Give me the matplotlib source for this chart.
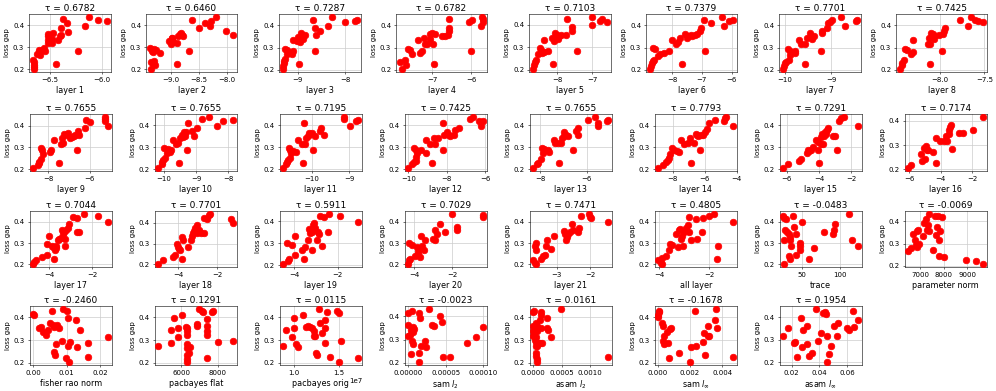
import matplotlib
matplotlib.use("Agg")
import matplotlib.pyplot as plt

# ---------------- data ----------------
taus = [0.6782, 0.6460, 0.7287, 0.6782, 0.7103, 0.7379, 0.7701, 0.7425,
        0.7655, 0.7655, 0.7195, 0.7425, 0.7655, 0.7793, 0.7291, 0.7174,
        0.7044, 0.7701, 0.5911, 0.7029, 0.7471, 0.4805, -0.0483, -0.0069,
        -0.2460, 0.1291, 0.0115, -0.0023, 0.0161, -0.1678, 0.1954]

xlabels = [f"layer {i}" for i in range(1, 22)] + [
    "all layer", "trace", "parameter norm", "fisher rao norm", "pacbayes flat",
    "pacbayes orig", r"sam $l_2$", r"asam $l_2$", r"sam $l_\infty$", r"asam $l_\infty$"]

l1_x = [-6.667, -6.657, -6.65, -6.654, -6.65, -6.628, -6.609, -6.603, -6.596, -6.577, -6.561, -6.548,
        -6.522, -6.519, -6.516, -6.516, -6.484, -6.481, -6.468, -6.439, -6.426, -6.407, -6.391, -6.394,
        -6.378, -6.337, -6.33, -6.228, -6.16, -6.122, -6.038, -5.945]
l1_y = [.244, .232, .221, .209, .200, .271, .277, .289, .267, .289, .295, .282, .362, .349, .335, .318,
        .318, .338, .364, .224, .332, .352, .356, .388, .427, .412, .371, .285, .398, .439, .424, .418]

l2_x = [-9.371, -9.341, -9.324, -9.294, -9.265, -9.347, -9.324, -9.294, -9.282, -9.353, -9.188, -9.029,
        -9.0, -8.988, -8.971, -8.96, -8.894, -8.882, -8.865, -8.841, -8.812, -8.80, -8.78, -8.671,
        -8.618, -8.488, -8.382, -8.294, -8.276, -8.188, -8.012, -7.888]
l2_y = [.295, .285, .277, .292, .289, .235, .226, .240, .221, .200, .274, .330, .315, .341, .342, .323,
        .224, .318, .350, .360, .364, .356, .349, .285, .426, .388, .412, .398, .417, .439, .373, .358]

l3_x = [-9.317, -9.303, -9.296, -9.282, -9.268, -9.261, -9.232, -9.225, -9.197, -9.127, -9.106, -9.099,
        -9.014, -9.0, -8.965, -8.951, -8.93, -8.894, -8.88, -8.845, -8.683, -8.634, -8.627, -8.613,
        -8.521, -8.366, -8.282, -8.0, -7.796, -7.746]
l3_y = [.202, .217, .232, .239, .250, .295, .289, .270, .282, .270, .285, .333, .330, .348, .224, .323,
        .364, .353, .339, .356, .426, .285, .388, .355, .373, .398, .439, .414, .418, .424]

l4_x = [-7.817, -7.775, -7.692, -7.667, -7.625, -7.567, -7.525, -7.35, -7.308, -7.267, -7.208, -7.192,
        -7.142, -7.067, -7.058, -7.0, -6.983, -6.942, -6.917, -6.75, -6.667, -6.608, -6.583, -6.567,
        -6.567, -6.058, -6.0, -5.992, -5.767, -5.733, -5.708, -5.708]
l4_y = [.235, .202, .244, .221, .295, .289, .270, .333, .274, .285, .342, .318, .318, .338, .361, .364,
        .318, .224, .361, .353, .353, .356, .373, .386, .427, .414, .285, .426, .398, .439, .427, .417]

l5_x = [-8.705, -8.657, -8.638, -8.61, -8.543, -8.495, -8.467, -8.429, -8.39, -8.371, -8.276, -8.162,
        -8.133, -8.095, -8.067, -8.0, -7.971, -7.943, -7.895, -7.752, -7.714, -7.59, -7.571, -7.448,
        -7.0, -7.0, -6.781, -6.733, -6.571]
l5_y = [.202, .221, .235, .244, .270, .295, .288, .274, .333, .277, .282, .342, .224, .327, .364, .356,
        .338, .350, .353, .356, .426, .389, .373, .285, .398, .436, .418, .424, .411]

l6_x = [-8.733, -8.7, -8.678, -8.644, -8.589, -8.622, -8.567, -8.478, -8.389, -8.278, -8.089, -8.011,
        -7.867, -7.811, -7.733, -7.667, -7.567, -7.5, -7.456, -7.367, -7.311, -7.222, -7.144, -7.067,
        -7.033, -6.922, -6.9, -6.7, -6.333, -6.256, -6.089, -5.956]
l6_y = [.202, .217, .232, .239, .244, .297, .292, .262, .270, .277, .285, .333, .315, .323, .341, .224,
        .361, .345, .353, .356, .353, .356, .361, .373, .386, .426, .285, .411, .439, .398, .418, .424]

l7_x = [-10.043, -10.021, -10.0, -9.971, -9.929, -9.9, -9.893, -9.879, -9.771, -9.771, -9.7, -9.65,
        -9.571, -9.557, -9.521, -9.464, -9.429, -9.414, -9.379, -9.214, -9.2, -9.2, -9.079, -9.057,
        -9.021, -8.986, -8.786, -8.7, -8.464, -8.436]
l7_y = [.202, .217, .229, .235, .295, .242, .265, .285, .285, .277, .333, .318, .224, .318, .342, .364,
        .353, .338, .350, .285, .364, .376, .388, .411, .417, .426, .439, .398, .418, .424]

l8_x = [-8.438, -8.42, -8.412, -8.394, -8.383, -8.365, -8.318, -8.3, -8.292, -8.128, -8.117, -8.109,
        -8.102, -8.091, -8.073, -8.066, -8.062, -8.007, -7.974, -7.964, -7.945, -7.934, -7.77, -7.682,
        -7.653, -7.606, -7.573, -7.518]
l8_y = [.202, .232, .221, .242, .295, .289, .273, .280, .333, .315, .341, .224, .318, .364, .361, .338,
        .353, .356, .285, .361, .376, .388, .426, .398, .439, .424, .418, .414]

l9_x = [-8.72, -8.48, -8.45, -8.432, -8.352, -8.352, -8.288, -8.24, -7.92, -7.888, -7.728, -7.472,
        -7.392, -7.36, -7.312, -7.232, -7.168, -7.072, -6.96, -6.88, -6.768, -6.72, -6.608, -6.56,
        -6.528, -6.24, -6.192, -6.0, -5.28, -5.264, -5.28, -5.12]
l9_y = [.203, .221, .229, .233, .247, .296, .289, .269, .277, .286, .334, .226, .316, .341, .319, .364,
        .359, .367, .341, .349, .352, .356, .289, .374, .359, .389, .427, .417, .442, .432, .421, .398]

l10_x = [-10.18, -10.07, -10.05, -10.02, -9.97, -10.0, -9.92, -9.89, -9.83, -9.79, -9.71, -9.63,
         -9.57, -9.53, -9.5, -9.45, -9.42, -9.37, -9.34, -9.31, -9.29, -9.27, -9.14, -9.06, -8.98,
         -8.82, -8.61, -8.37, -8.17, -7.85]
l10_y = [.203, .221, .232, .241, .251, .296, .274, .292, .277, .286, .334, .316, .319, .229, .341, .356,
         .346, .367, .352, .371, .289, .410, .374, .352, .389, .427, .439, .398, .419, .424]

l11_x = [-10.77, -10.7, -10.67, -10.65, -10.6, -10.62, -10.58, -10.55, -10.51, -10.44, -10.37, -10.27,
         -10.25, -10.22, -10.18, -10.15, -10.12, -10.09, -10.04, -10.0, -9.96, -9.91, -9.78, -9.75,
         -9.69, -9.13, -9.13, -8.98, -8.81, -8.76]
l11_y = [.203, .221, .232, .241, .251, .296, .289, .271, .281, .277, .334, .314, .229, .412, .314, .341,
         .349, .364, .361, .364, .289, .349, .374, .386, .356, .439, .427, .398, .421, .424]

l12_x = [-10.0, -9.79, -9.7, -9.62, -9.62, -9.7, -9.59, -9.53, -9.36, -9.1, -9.05, -8.89, -8.77,
         -8.68, -8.6, -8.43, -8.2, -8.17, -8.12, -8.0, -7.88, -7.8, -7.6, -7.55, -7.37, -6.77, -6.64,
         -6.3, -6.21, -6.09]
l12_y = [.203, .221, .232, .239, .254, .296, .289, .271, .286, .274, .334, .314, .226, .341, .316, .341,
         .289, .412, .356, .367, .356, .349, .356, .376, .389, .427, .439, .421, .398, .421]

l13_x = [-8.30, -8.143, -8.086, -7.971, -7.929, -7.857, -7.9, -7.686, -7.614, -7.429, -7.357, -7.186,
         -7.257, -7.114, -7.071, -7.0, -6.971, -6.9, -6.8, -6.586, -6.471, -6.4, -6.371, -5.943,
         -5.643, -5.543, -5.514, -5.157, -5.086]
l13_y = [.203, .221, .229, .247, .296, .292, .271, .286, .277, .334, .319, .226, .319, .319, .341, .352,
         .367, .356, .352, .289, .374, .386, .356, .424, .439, .398, .412, .421, .424]

l14_x = [-8.905, -8.632, -8.421, -8.316, -8.21, -8.168, -8.063, -7.895, -7.747, -7.579, -7.474, -7.305,
         -6.947, -7.053, -6.884, -6.674, -6.568, -6.484, -6.421, -6.316, -6.253, -6.105, -6.0, -5.842,
         -5.737, -5.379, -4.789, -4.705, -4.642, -4.21]
l14_y = [.203, .221, .232, .241, .251, .271, .296, .289, .281, .277, .334, .316, .341, .319, .226, .319,
         .364, .356, .352, .289, .356, .356, .371, .386, .412, .424, .421, .434, .442, .398]

l15_x = [-6.208, -5.917, -5.229, -5.125, -4.75, -4.667, -4.604, -4.5, -4.396, -4.188, -4.083, -4.042,
         -3.979, -3.896, -3.854, -3.792, -3.729, -3.688, -3.646, -3.542, -3.479, -3.438, -3.104, -3.0,
         -2.896, -2.75, -2.604, -2.438, -1.563]
l15_y = [.203, .221, .236, .247, .271, .289, .281, .289, .299, .334, .322, .289, .226, .316, .346, .361,
         .316, .352, .371, .361, .376, .386, .352, .352, .289, .421, .431, .439, .398]

l16_x = [-6.06, -5.87, -5.26, -5.17, -5.07, -4.98, -4.94, -4.89, -4.8, -4.52, -4.33, -4.28, -4.06,
         -3.78, -3.69, -3.59, -3.5, -3.46, -3.41, -3.35, -3.31, -2.85, -2.61, -1.95, -1.3]
l16_y = [.203, .219, .264, .233, .288, .242, .295, .281, .281, .270, .329, .226, .315, .315, .336, .315,
         .347, .363, .374, .384, .285, .349, .349, .363, .418]

l17_x = [-4.756, -4.724, -4.646, -4.362, -4.126, -4.126, -4.0, -3.89, -3.811, -3.764, -3.732, -3.7,
         -3.685, -3.606, -3.528, -3.449, -3.402, -3.37, -3.33, -3.291, -3.26, -3.213, -3.134, -3.102,
         -2.898, -2.709, -2.693, -2.63, -2.378, -1.732, -1.244]
l17_y = [.200, .212, .221, .236, .245, .297, .333, .288, .282, .227, .270, .288, .279, .315, .318, .326,
         .361, .341, .353, .318, .285, .364, .373, .388, .424, .417, .353, .353, .439, .427, .398]

l18_x = [-5.043, -4.783, -4.261, -4.174, -4.087, -4.035, -3.965, -3.913, -3.826, -3.791, -3.739, -3.53,
         -3.339, -3.304, -3.252, -3.217, -3.13, -3.043, -3.043, -2.957, -2.817, -2.696, -2.661, -2.522,
         -2.435, -2.383, -1.304, -1.165]
l18_y = [.200, .221, .236, .245, .297, .285, .273, .267, .227, .333, .315, .285, .318, .338, .353, .361,
         .373, .388, .353, .364, .353, .353, .424, .418, .436, .444, .417, .398]

l19_x = [-4.512, -4.31, -4.233, -4.326, -4.124, -3.969, -3.969, -3.659, -3.55, -3.504, -3.349, -3.302,
         -3.271, -3.194, -3.194, -3.132, -3.101, -3.054, -2.946, -2.9, -2.853, -2.822, -2.744, -2.636,
         -2.434, -2.388, -1.876, -1.054]
l19_y = [.203, .221, .230, .300, .292, .335, .247, .270, .227, .282, .315, .364, .345, .270, .353, .383,
         .391, .368, .315, .353, .342, .424, .288, .418, .353, .436, .427, .398]

l20_x = [-4.316, -4.263, -4.2, -4.263, -4.14, -3.965, -3.877, -3.789, -3.789, -3.702, -3.667, -3.614,
         -3.491, -3.439, -3.0, -2.912, -2.912, -2.789, -2.649, -2.386, -2.0, -1.737, -1.737, -0.404,
         -0.368]
l20_y = [.200, .220, .227, .300, .292, .239, .282, .262, .247, .235, .333, .288, .270, .315, .318, .315,
         .361, .345, .388, .353, .439, .376, .364, .424, .432]

l21_x = [-3.7, -3.65, -3.63, -3.65, -3.61, -3.63, -3.48, -3.4, -3.35, -3.31, -3.28, -3.18, -3.08,
         -2.78, -2.76, -2.71, -2.68, -2.65, -2.6, -2.53, -2.5, -2.36, -2.33, -2.26, -2.03, -2.01, -1.98,
         -1.46]
l21_y = [.221, .209, .200, .288, .300, .270, .227, .239, .245, .285, .315, .273, .333, .358, .345, .315,
         .330, .345, .353, .388, .361, .353, .373, .427, .439, .424, .417, .398]

all_x = [-4.027, -3.933, -3.893, -3.867, -3.707, -3.6, -3.56, -3.467, -3.307, -3.227, -3.2, -3.16,
         -3.107, -3.067, -3.04, -3.0, -2.933, -2.84, -2.8, -2.8, -2.733, -2.533, -2.493, -2.267, -2.24,
         -2.0, -1.8, -1.707, -1.64, -1.04]
all_y = [.221, .209, .200, .232, .242, .270, .297, .292, .345, .282, .361, .368, .318, .333, .285, .353,
         .373, .383, .424, .353, .315, .414, .318, .353, .418, .427, .439, .227, .288, .398]

trace_x = [25, 26.4, 26.4, 25.9, 27.7, 29.1, 30, 32.3, 33.6, 34.5, 35.5, 32.3, 33.6, 37.7, 39.1, 41.4,
           42.3, 46.8, 46.8, 47.7, 50, 59.1, 65.9, 79.5, 90.9, 92.3, 93.2, 111.4, 115.9, 124.1]
trace_y = [.429, .418, .315, .200, .364, .414, .353, .345, .327, .315, .288, .239, .224, .429, .376, .342,
           .245, .300, .288, .270, .398, .227, .276, .353, .345, .364, .388, .439, .315, .288]

pnorm_x = [6500, 6600, 6714, 6786, 6814, 6857, 6886, 6929, 6957, 7129, 7171, 7243, 7286, 7343, 7386,
           7386, 7529, 7643, 7700, 7671, 7743, 7786, 7857, 7914, 7814, 8029, 8929, 9357, 9671]
pnorm_y = [.268, .281, .341, .316, .293, .286, .355, .361, .298, .335, .395, .411, .361, .385, .355,
           .436, .272, .426, .373, .338, .423, .316, .355, .421, .245, .238, .226, .221, .205]

fisher_x = [0.0, .0002, .0018, .0023, .003, .0037, .0045, .005, .0055, .0058, .0062, .0062, .0065, .0068,
            .0072, .0078, .0085, .009, .0097, .01, .0105, .0105, .0107, .011, .0128, .013, .014, .0163,
            .0165, .0225]
fisher_y = [.415, .412, .355, .358, .335, .322, .343, .373, .426, .365, .358, .247, .235, .283, .367,
            .355, .298, .438, .223, .427, .397, .272, .202, .292, .388, .268, .343, .287, .227, .314]

pbflat_x = [4738, 5435, 5435, 5623, 5810, 5848, 6054, 6280, 6318, 6318, 6318, 6318, 6318, 6318, 6318,
            6330, 6430, 6505, 6841, 6879, 6991, 7121, 7178, 7439, 7439, 7439, 7439, 7439, 7682, 7738,
            8000, 8860]
pbflat_y = [.272, .287, .343, .397, .352, .314, .412, .358, .340, .322, .283, .265, .235, .217, .202,
            .355, .242, .268, .370, .362, .438, .430, .423, .392, .362, .340, .322, .223, .423, .430,
            .292, .298]

pborig_x = [0.88e7, 0.906e7, 0.974e7, 1.0e7, 1.0e7, 1.023e7, 1.041e7, 1.098e7, 1.135e7, 1.162e7,
            1.18e7, 1.199e7, 1.218e7, 1.226e7, 1.237e7, 1.244e7, 1.256e7, 1.274e7, 1.286e7, 1.312e7,
            1.35e7, 1.35e7, 1.35e7, 1.368e7, 1.398e7, 1.481e7, 1.508e7, 1.508e7, 1.526e7, 1.718e7]
pborig_y = [.272, .343, .313, .397, .355, .283, .268, .412, .358, .362, .358, .355, .340, .317, .317,
            .242, .235, .438, .373, .332, .388, .352, .287, .423, .227, .427, .420, .202, .295, .223]

saml2_x = [0.0, 0.0, 0.0, .0000018, .0000032, .0000041, .0000055, .0000055, .0000069, .0000069,
           .0000078, .0000065, .0000138, .0000138, .0000138, .0000157, .000017, .0000226, .000023,
           .0000276, .0000323, .0000346, .0000424, .0000447, .0000461, .0000553, .0000779, .0000908,
           .0001]
saml2_y = [.362, .317, .415, .320, .340, .238, .423, .295, .280, .332, .347, .355, .415, .242, .202,
           .392, .272, .292, .269, .433, .362, .359, .400, .377, .223, .227, .286, .313, .352]

asaml2_x = [0.0, .0000118, 0.0, 0.0, 0.0, .0000118, .0000235, .0000294, .0000412, .0000412, .0000412,
            .0000412, .0000412, .0000529, .0000588, .0000706, .0000706, .0000706, .0000706, .0000824,
            .000112, .000118, .000129, .000141, .000129, .000147, .000235, .000247, .000259, .000306,
            .000482, .001318]
asaml2_y = [.423, .427, .362, .340, .317, .325, .358, .302, .373, .313, .292, .272, .242, .232, .217,
            .202, .340, .362, .272, .287, .388, .287, .412, .423, .355, .287, .397, .355, .343, .314,
            .438, .227]

samlinf_x = [.00004, .00008, .00004, .0001, .00029, .00036, .00036, .0004, .00042, .00057, .00067,
             .00072, .00074, .00084, .00131, .00198, .00204, .00229, .00236, .00278, .00284, .00293,
             .0031, .00314, .0032, .00352, .00362, .00368, .00467]
samlinf_y = [.412, .423, .400, .427, .373, .362, .298, .283, .317, .337, .287, .223, .347, .355, .245,
             .202, .269, .426, .272, .292, .332, .235, .317, .360, .317, .388, .438, .352, .227]

asamlinf_x = [.0139, .0173, .0217, .0224, .0236, .027, .0278, .0285, .031, .0314, .0326, .035, .0379,
              .0387, .0411, .0428, .044, .0448, .0459, .0459, .0472, .0484, .0508, .0525, .0539, .06,
              .0612, .0641, .0648, .0682]
asamlinf_y = [.317, .352, .286, .290, .223, .397, .268, .343, .283, .362, .226, .242, .438, .295, .332,
              .420, .423, .415, .316, .200, .235, .272, .359, .317, .373, .352, .343, .427, .355, .388]

xs = [l1_x, l2_x, l3_x, l4_x, l5_x, l6_x, l7_x, l8_x, l9_x, l10_x, l11_x, l12_x, l13_x, l14_x,
      l15_x, l16_x, l17_x, l18_x, l19_x, l20_x, l21_x, all_x, trace_x, pnorm_x, fisher_x, pbflat_x,
      pborig_x, saml2_x, asaml2_x, samlinf_x, asamlinf_x]
ys = [l1_y, l2_y, l3_y, l4_y, l5_y, l6_y, l7_y, l8_y, l9_y, l10_y, l11_y, l12_y, l13_y, l14_y,
      l15_y, l16_y, l17_y, l18_y, l19_y, l20_y, l21_y, all_y, trace_y, pnorm_y, fisher_y, pbflat_y,
      pborig_y, saml2_y, asaml2_y, samlinf_y, asamlinf_y]

# ---------------- layout ----------------
W, H = 996, 391
fig = plt.figure(figsize=(W / 50, H / 50), dpi=50)

row_tb = [(14, 72), (114, 171), (211, 267), (306, 365)]
row1_cols = [(29, 111), (146, 237), (279, 361), (396, 487), (529, 611), (646, 737), (779, 861), (896, 987)]
other_cols = [(29.5 + 125 * k, 112 + 125 * k) for k in range(8)]

for i, (x, y) in enumerate(zip(xs, ys)):
    r, c = divmod(i, 8)
    top, bot = row_tb[r]
    left, right = (row1_cols if r == 0 else other_cols)[c]
    ax = fig.add_axes([left / W, 1 - bot / H, (right - left) / W, (bot - top) / H])
    ax.scatter(x, y, color="red", s=90, zorder=3)
    ax.grid(True, color="#cccccc", linewidth=1.0)
    ax.set_axisbelow(True)
    ax.set_title(f"\u03c4 = {taus[i]:.4f}", fontsize=13, pad=5)
    ax.set_xlabel(xlabels[i], fontsize=11.5)
    ax.set_ylabel("loss gap", fontsize=10)
    ax.tick_params(labelsize=10)

fig.savefig("out.png", dpi=50)
